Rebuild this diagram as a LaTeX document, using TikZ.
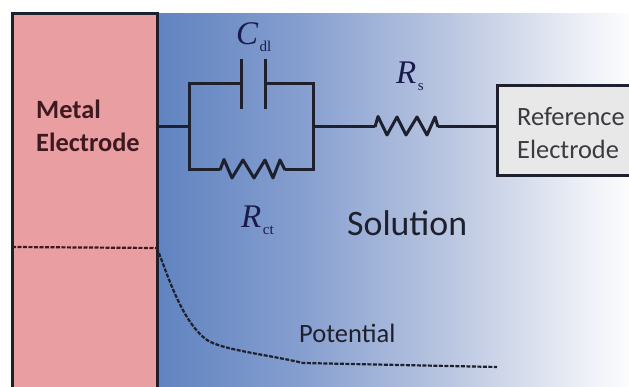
\documentclass[tikz,border=0pt]{standalone}
\usepackage{fontspec}
\setmainfont{Carlito}
\newfontfamily\timesfont{Liberation Serif}
\definecolor{inkd}{RGB}{30,32,45}
\definecolor{metalink}{RGB}{62,26,32}
\definecolor{refink}{RGB}{58,58,64}
\definecolor{metal}{RGB}{233,158,162}
\definecolor{refbox}{RGB}{232,232,232}
\definecolor{solA}{RGB}{96,131,192}
\definecolor{solB}{RGB}{133,158,207}
\definecolor{solC}{RGB}{190,201,226}
\definecolor{solD}{RGB}{236,239,246}
\definecolor{solE}{RGB}{252,252,253}
\pgfdeclarehorizontalshading{solution}{100bp}{
  color(0bp)=(solA); color(25bp)=(solA); color(40bp)=(solB); color(57bp)=(solC); color(70bp)=(solD); color(75bp)=(solE); color(100bp)=(solE)}
\usetikzlibrary{calc}
\tikzset{
  wire/.style={draw=inkd,line width=3pt,line join=miter},
  frame/.style={draw=inkd,line width=3pt},
  dashline/.style={draw=inkd,line width=2.2pt,dash pattern=on 4pt off 1.5pt},
  lab/.style={text=inkd,align=left,inner sep=0pt},
  sym/.style={text=inkd!85!blue,inner sep=0pt,font=\timesfont},
}
\newcommand{\symb}[2]{{\fontsize{33}{33}\selectfont\itshape #1}{\fontsize{15}{15}\selectfont\raisebox{-6.5pt}{\hspace{1.5pt}#2}}}
\begin{document}
\begin{tikzpicture}[x=1pt,y=-1pt]
\useasboundingbox (0,0) rectangle (629,387);
\clip (0,0) rectangle (629,387);
\shade[shading=solution] (157,14) rectangle (629,387);
\path[fill=metal] (12,14) rectangle (157,387);
\path[frame] (12,390) -- (12,14) -- (157,14) -- (157,390);
% reference box
\path[fill=refbox] (497,86) rectangle (632,176);
\path[frame] (634,86) -- (497,86) -- (497,176) -- (634,176);
\node[lab,text=refink,font=\fontsize{26.4}{33}\selectfont,anchor=west] (ref) at (517,133) {Reference\\Electrode};
\coordinate (refin) at (497,127);
\node[lab,text=metalink,font=\bfseries\fontsize{26.4}{33}\selectfont,anchor=west] (metal) at (36,126) {Metal\\Electrode};
\coordinate (mo) at (157,127);
\coordinate (jl) at (189,127);
\coordinate (jr) at (313,127);
\coordinate (tl) at (189,84);
\coordinate (tr) at (313,84);
\coordinate (bl) at (189,170);
\coordinate (br) at (313,170);
\coordinate (pa) at (241,84);
\coordinate (pb) at (265,84);
\coordinate (ra) at (220,170);
\coordinate (rb) at (285,170);
\coordinate (sa) at (375,127);
\coordinate (sb) at (438,127);
\draw[wire] (mo) -- (jl);
\draw[wire] (pa) -- (tl) -- (bl) -- (ra);
\draw[wire,line join=round] (ra) -- (224,159.5) -- (232,178) -- (243,160) -- (254,178) -- (265,160) -- (273,178) -- (280,160) -- (rb);
\draw[wire] (rb) -- (br) -- (tr) -- (pb);
\draw[wire] ($(pa)+(0,-25)$) -- ($(pa)+(0,25)$);
\draw[wire] ($(pb)+(0,-25)$) -- ($(pb)+(0,25)$);
\draw[wire] (jr) -- (sa);
\draw[wire,line join=round] (sa) -- (378,116.5) -- (387,135) -- (397,117) -- (406,135) -- (417,117) -- (427,135) -- (435,117) -- (sb);
\draw[wire] (sb) -- (refin);
% labels
\node[sym,anchor=base west] (cdl) at (236,45) {\symb{C}{dl}};
\node[sym,anchor=base west] (rs) at (396,84) {\symb{R}{s}};
\node[sym,anchor=base west] (rct) at (241,228) {\symb{R}{ct}};
\node[lab,font=\fontsize{35.8}{36}\selectfont,anchor=base west] (sol) at (347,236) {Solution};
\node[lab,font=\fontsize{26.5}{27}\selectfont,anchor=base west] (pot) at (299,342) {Potential};
% potential
\coordinate (p0) at (12,247);
\coordinate (p1) at (157,248);
\coordinate (p2) at (497,367);
\draw[dashline,draw=metalink] (p0) -- (p1);
\draw[dashline] (p1) .. controls (168,276) and (182,322) .. (207,340) .. controls (222,350) and (270,355) .. (303,363) -- (400,365) -- (p2);
\end{tikzpicture}
\end{document}
